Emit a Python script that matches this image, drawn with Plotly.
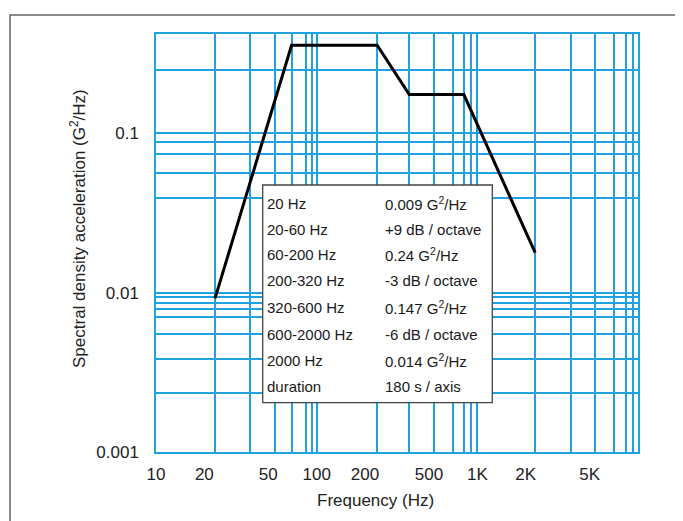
import plotly.graph_objects as go

# PSD profile, values
freq = [23.3, 69.8, 238, 377, 824, 2290]
psd = [0.0092, 0.357, 0.357, 0.175, 0.175, 0.0178]

# axis labels
x_ticks = [10, 20, 50, 100, 200, 500, 1000, 2000, 5000]
x_ticktext = ["10", "20", "50", "100", "200", "500", "1K", "2K", "5K"]
y_ticks = [0.001, 0.01, 0.1]
y_ticktext = ["0.001", "0.01", "0.1"]

# grid lines as drawn on the chart paper
x_grid = [23.3, 38.3, 54.7, 69.8, 85.9, 93.1, 100,
          238, 377, 537, 706, 824, 910, 1000,
          2290, 3810, 5400, 7120, 8420, 9360]
y_grid = [0.00235, 0.00384, 0.00552, 0.00708, 0.00786, 0.00856, 0.00936, 0.01,
          0.039, 0.0565, 0.0743, 0.0881, 0.1, 0.25]

# spec table
table_left = ["20 Hz", "20-60 Hz", "60-200 Hz", "200-320 Hz",
              "320-600 Hz", "600-2000 Hz", "2000 Hz", "duration"]
table_right = ["0.009 G<sup>2</sup>/Hz", "+9 dB / octave", "0.24 G<sup>2</sup>/Hz",
               "-3 dB / octave", "0.147 G<sup>2</sup>/Hz", "-6 dB / octave",
               "0.014 G<sup>2</sup>/Hz", "180 s / axis"]

# page body has an 8px margin, so work in window pixels and shift
OFF = 8
W, H = 683 - OFF, 521 - OFF
L, R, T, B = 156, 638, 34, 452
GRID = "#1ea2e0"
FONT = "Liberation Sans, Arial, sans-serif"


def px_x(x):
    return (x - L) / (R - L)


def px_y(y):
    return (B - y) / (B - T)


fig = go.Figure()
fig.add_trace(go.Scatter(x=freq, y=psd, mode="lines",
                         line=dict(color="black", width=3), showlegend=False))

axis_common = dict(
    type="log",
    showgrid=False,
    zeroline=False,
    showline=True,
    mirror=True,
    linecolor=GRID,
    linewidth=1.5,
    ticks="",
    tickfont=dict(family=FONT, size=17, color="#222"),
)
fig.update_xaxes(
    **axis_common,
    range=[1, 4],
    tickvals=x_ticks,
    ticktext=x_ticktext,
    ticklabelstandoff=6,
    minor=dict(tickvals=x_grid, showgrid=True, gridcolor=GRID, gridwidth=1.5, ticks=""),
)
fig.update_yaxes(
    **axis_common,
    range=[-3, -0.377],
    tickvals=y_ticks,
    ticktext=y_ticktext,
    ticklabelstandoff=12,
    minor=dict(tickvals=y_grid, showgrid=True, gridcolor=GRID, gridwidth=1.5, ticks=""),
)

shapes = [
    # outer frame, runs off the right and bottom of the image
    dict(type="rect", xref="paper", yref="paper",
         x0=px_x(10), x1=px_x(700), y0=px_y(540), y1=px_y(15),
         line=dict(color="#666", width=1.5), layer="below"),
    # spec table box
    dict(type="rect", xref="paper", yref="paper",
         x0=px_x(262.7), x1=px_x(492.3), y0=px_y(402.7), y1=px_y(185),
         line=dict(color="#444", width=1.3), fillcolor="white", layer="above"),
]

annotations = []
row_y = [203.3, 229.3, 255, 280.7, 307.7, 334, 360.7, 386.7]
for yy, left, right in zip(row_y, table_left, table_right):
    annotations.append(dict(xref="paper", yref="paper", x=px_x(265), y=px_y(yy),
                            text=left, showarrow=False, xanchor="left", yanchor="middle",
                            font=dict(family=FONT, size=15, color="#1a1a1a")))
    annotations.append(dict(xref="paper", yref="paper", x=px_x(383), y=px_y(yy),
                            text=right, showarrow=False, xanchor="left", yanchor="middle",
                            font=dict(family=FONT, size=15, color="#1a1a1a")))

annotations.append(dict(xref="paper", yref="paper", x=px_x(375), y=px_y(500),
                        text="Frequency (Hz)", showarrow=False,
                        xanchor="center", yanchor="middle",
                        font=dict(family=FONT, size=17, color="#222")))
annotations.append(dict(xref="paper", yref="paper", x=px_x(78), y=px_y(229),
                        text="Spectral density acceleration (G<sup>2</sup>/Hz)",
                        showarrow=False, textangle=-90,
                        xanchor="center", yanchor="middle",
                        font=dict(family=FONT, size=17, color="#222")))

fig.update_layout(
    width=W,
    height=H,
    margin=dict(l=L - OFF, r=683 - R, t=T - OFF, b=521 - B),
    paper_bgcolor="white",
    plot_bgcolor="white",
    shapes=shapes,
    annotations=annotations,
)

fig.write_html("out.html")
